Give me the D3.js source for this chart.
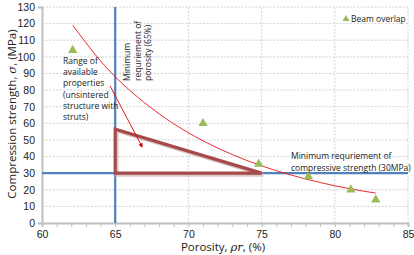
<!DOCTYPE html>
<html lang="en">
<head>
<meta charset="UTF-8">
<title>Compression strength vs porosity</title>
<script src="https://d3js.org/d3.v7.min.js"></script>
<style>
  body { margin: 0; background: #fff; }
  svg { display: block; font-family: "Open Sans", Lato, sans-serif; }
  .tick text { font-size: 10.5px; fill: #222; }
  .note { font-size: 8.5px; fill: #222; }
</style>
</head>
<body>
<svg width="414" height="255"></svg>
<script>
  // measured beam-overlap samples
  const beamX = [62.1, 71.0, 74.8, 78.2, 81.1, 82.8];
  const beamY = [104, 60, 35.5, 28, 20, 14];

  // red trend curve
  const fitX = [62.1, 63, 64, 65, 66, 67, 68, 69, 70, 71, 72, 73, 74, 75, 76, 77, 78, 79, 80, 81, 82, 82.8];
  const fitY = [119, 108.5, 97.5, 88, 79.8, 72.4, 65.7, 59.7, 54.3, 49.5, 45.1, 41.2, 37.6, 34.4, 31.5, 28.9, 26.5, 24.4, 22.4, 20.7, 19.1, 18];

  // range-of-properties triangle and arrow
  const regionX = [65, 65, 75];
  const regionY = [56.5, 30, 30];
  const arrowX = [64.65, 66.8];
  const arrowY = [82.5, 46.5];

  const minPorosity = 65, minStrength = 30;
  const xTicks = [60, 65, 70, 75, 80, 85];
  const yTicks = d3.range(0, 131, 10);

  const margin = {top: 7, right: 6, bottom: 32, left: 42};
  const width = 414, height = 255;
  const svg = d3.select("svg");

  const x = d3.scaleLinear().domain([60, 85]).range([margin.left, width - margin.right]);
  const y = d3.scaleLinear().domain([0, 130]).range([height - margin.bottom, margin.top]);

  const defs = svg.append("defs");
  defs.append("marker").attr("id", "arrow")
      .attr("viewBox", "0 0 10 10").attr("refX", 5).attr("refY", 5)
      .attr("markerWidth", 5).attr("markerHeight", 5).attr("orient", "auto")
    .append("path").attr("d", "M0,0L10,5L0,10z").attr("fill", "#e00000");

  // gridlines
  svg.append("g").selectAll("line").data(yTicks.filter(d => d > 0)).join("line")
      .attr("x1", x(60)).attr("x2", x(85)).attr("y1", d => y(d)).attr("y2", d => y(d))
      .attr("stroke", "#c8c8c8").attr("stroke-dasharray", "2,1.5").attr("stroke-width", 0.8);
  svg.append("g").selectAll("line").data(xTicks.filter(d => d > 60)).join("line")
      .attr("x1", d => x(d)).attr("x2", d => x(d)).attr("y1", y(0)).attr("y2", y(130))
      .attr("stroke", "#c8c8c8").attr("stroke-dasharray", "2,1.5").attr("stroke-width", 0.8);

  // axes
  const xAxis = svg.append("g").attr("transform", `translate(0,${y(0)})`)
      .call(d3.axisBottom(x).tickValues(d3.range(60, 86, 1)).tickSize(4).tickPadding(4)
        .tickFormat(d => xTicks.includes(d) ? d : ""));
  const yAxis = svg.append("g").attr("transform", `translate(${x(60)},0)`)
      .call(d3.axisLeft(y).tickValues(yTicks).tickSize(4).tickPadding(3));
  [xAxis, yAxis].forEach(g => {
    g.select(".domain").attr("stroke", "#bfbfbf").attr("stroke-width", 2);
    g.selectAll(".tick line").attr("stroke", "#bfbfbf");
  });
  yAxis.selectAll(".tick line").attr("stroke-width", 0);

  // requirement lines
  svg.append("line").attr("x1", x(minPorosity)).attr("x2", x(minPorosity))
      .attr("y1", y(0)).attr("y2", y(130)).attr("stroke", "#4f81bd").attr("stroke-width", 2.2);
  svg.append("line").attr("x1", x(60)).attr("x2", x(85))
      .attr("y1", y(minStrength)).attr("y2", y(minStrength)).attr("stroke", "#4f81bd").attr("stroke-width", 2.2);

  // region triangle
  const region = regionX.map((d, i) => [x(d), y(regionY[i])]);
  svg.append("path").attr("d", d3.line()(region) + "Z")
      .attr("transform", "translate(1.5,1.5)")
      .attr("fill", "none").attr("stroke", "#c9a3a3").attr("stroke-width", 4).attr("opacity", 0.6);
  svg.append("path").attr("d", d3.line()(region) + "Z")
      .attr("fill", "none").attr("stroke", "#a64b4b").attr("stroke-width", 3.2)
      .attr("stroke-linejoin", "miter");

  // trend curve
  svg.append("path").datum(fitX.map((d, i) => [d, fitY[i]]))
      .attr("d", d3.line().x(d => x(d[0])).y(d => y(d[1])).curve(d3.curveMonotoneX))
      .attr("fill", "none").attr("stroke", "#e8141c").attr("stroke-width", 0.9);

  // arrow
  svg.append("line").attr("x1", x(arrowX[0])).attr("y1", y(arrowY[0]))
      .attr("x2", x(arrowX[1])).attr("y2", y(arrowY[1]))
      .attr("stroke", "#e00000").attr("stroke-width", 0.9).attr("marker-end", "url(#arrow)");

  // beam overlap markers
  const tri = d3.symbol().type(d3.symbolTriangle).size(38);
  svg.append("g").selectAll("path").data(beamX).join("path")
      .attr("d", tri)
      .attr("transform", (d, i) => `translate(${x(d)},${y(beamY[i])})`)
      .attr("fill", "#9bbb59");

  // legend
  svg.append("path").attr("d", d3.symbol().type(d3.symbolTriangle).size(22))
      .attr("transform", "translate(346,19)").attr("fill", "#9bbb59");
  svg.append("text").attr("class", "note").attr("x", 351).attr("y", 22).text("Beam overlap");

  // annotations
  const rangeLines = ["Range of", "available", "properties", "(unsintered", "structure with", "struts)"];
  svg.append("text").attr("class", "note").attr("font-size", 7.8).selectAll("tspan").data(rangeLines).join("tspan")
      .attr("x", 63).attr("y", (d, i) => 64 + i * 11.2).text(d => d);

  const poroLines = ["Minimum", "requriement of", "porosity (65%)"];
  svg.append("g").attr("transform", "translate(130,81) rotate(-90)")
    .append("text").attr("class", "note").selectAll("tspan").data(poroLines).join("tspan")
      .attr("x", 0).attr("y", (d, i) => i * 10.5).text(d => d);

  const strLines = ["Minimum requriement of", "compressive strength (30MPa)"];
  svg.append("text").attr("class", "note").selectAll("tspan").data(strLines).join("tspan")
      .attr("x", 291).attr("y", (d, i) => 159 + i * 11.5).text(d => d);

  // axis titles
  const yTitle = svg.append("text").attr("transform", "translate(16,114) rotate(-90)")
      .attr("text-anchor", "middle").attr("font-size", 11.5).attr("fill", "#222");
  yTitle.append("tspan").text("Compression strength, ");
  yTitle.append("tspan").attr("font-family", "DejaVu Serif").attr("font-style", "italic").text("σ");
  yTitle.append("tspan").text(", (MPa)");

  const xTitle = svg.append("text").attr("x", 223).attr("y", 251)
      .attr("text-anchor", "middle").attr("font-size", 11.5).attr("fill", "#222");
  xTitle.append("tspan").text("Porosity, ");
  xTitle.append("tspan").attr("font-family", "DejaVu Serif").attr("font-style", "italic").text("ρr");
  xTitle.append("tspan").text(", (%)");
</script>
</body>
</html>
